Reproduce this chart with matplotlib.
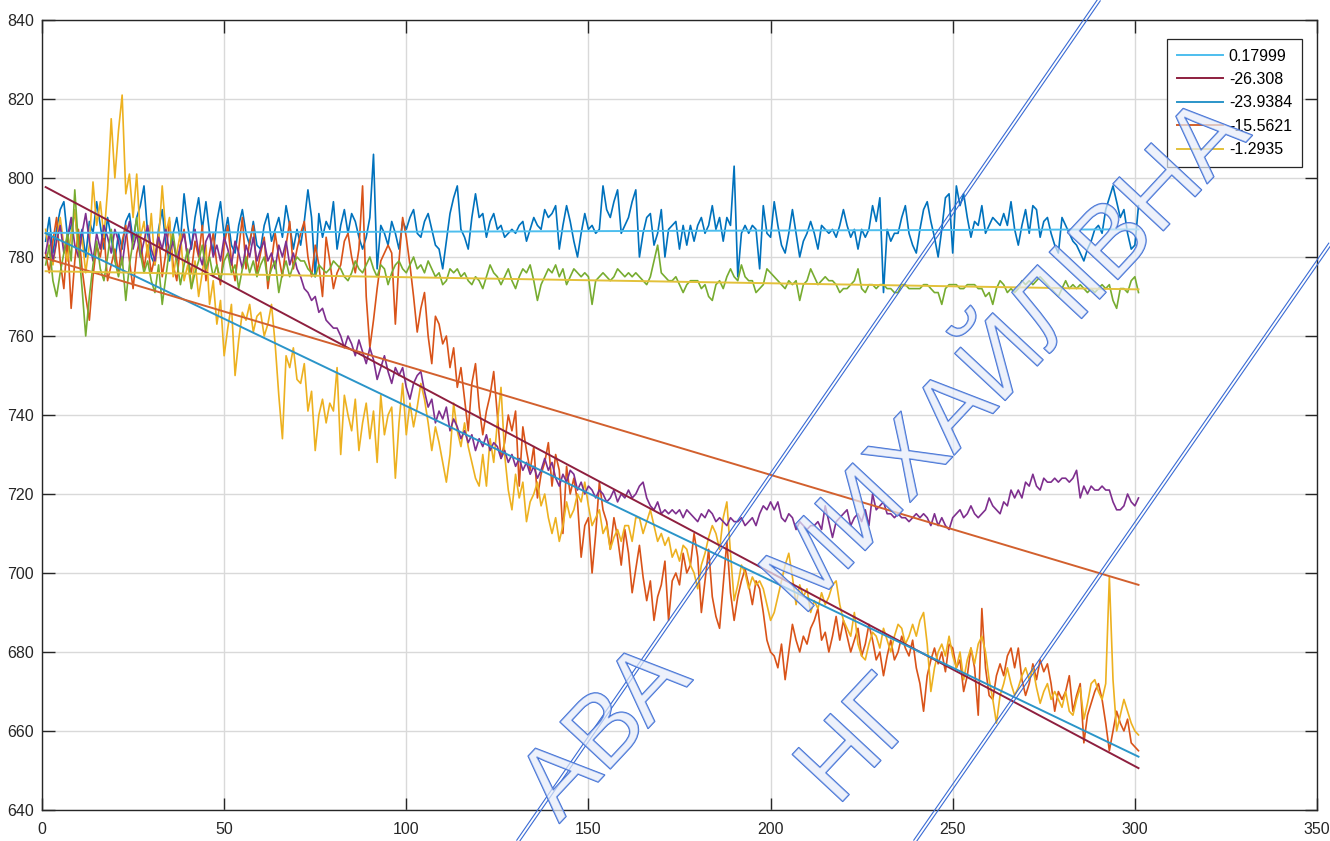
import numpy as np
import matplotlib
matplotlib.use("Agg")
import matplotlib.pyplot as plt
from matplotlib import font_manager
from matplotlib.font_manager import FontProperties
from matplotlib.textpath import text_to_path
from matplotlib.transforms import Affine2D
from matplotlib.lines import Line2D
import matplotlib.patheffects as pe

# ---------------- data ----------------
x = np.arange(1, 302)

blue = [
    784, 790, 781, 787, 792, 794, 785, 788, 791, 783,
    787, 780, 789, 786, 794, 788, 782, 790, 785, 779,
    786, 782, 789, 791, 784, 790, 793, 798, 786, 780,
    778, 787, 792, 783, 779, 786, 790, 784, 796, 788,
    782, 790, 795, 787, 794, 786, 781, 789, 794, 785,
    790, 783, 781, 788, 792, 786, 783, 789, 783, 782,
    788, 791, 784, 787, 790, 785, 793, 788, 782, 787,
    783, 789, 797, 790, 775, 791, 785, 789, 787, 794,
    782, 788, 792, 786, 791, 789, 785, 782, 785, 790,
    806, 777, 788, 786, 783, 789, 786, 782, 789, 787,
    790, 792, 786, 785, 789, 791, 787, 783, 782, 777,
    784, 791, 795, 798, 787, 785, 782, 790, 796, 790,
    791, 785, 789, 791, 787, 788, 785, 786, 787, 786,
    788, 789, 784, 787, 790, 788, 787, 792, 790, 791,
    793, 782, 788, 793, 789, 784, 780, 786, 791, 787,
    788, 786, 787, 798, 792, 790, 794, 797, 786, 788,
    790, 794, 797, 780, 786, 790, 791, 783, 786, 792,
    780, 787, 788, 789, 782, 788, 783, 788, 784, 788,
    790, 786, 788, 793, 787, 790, 784, 790, 788, 803,
    775, 786, 788, 786, 788, 787, 777, 793, 786, 785,
    794, 788, 783, 781, 786, 792, 786, 780, 784, 786,
    789, 786, 782, 788, 787, 786, 787, 785, 788, 792,
    788, 785, 787, 782, 787, 785, 787, 793, 789, 795,
    771, 787, 784, 786, 786, 790, 793, 786, 783, 781,
    787, 792, 794, 789, 785, 780, 787, 795, 796, 781,
    798, 793, 796, 790, 785, 789, 788, 793, 786, 788,
    790, 789, 788, 791, 788, 794, 787, 783, 788, 792,
    786, 793, 792, 785, 789, 790, 786, 783, 781, 790,
    788, 786, 784, 783, 781, 779, 782, 784, 787, 788,
    786, 792, 795, 798, 794, 790, 792, 786, 782, 783,
    793,
]

orange = [
    781, 776, 784, 790, 779, 772, 785, 767, 779, 787,
    777, 770, 764, 775, 783, 780, 786, 774, 778, 782,
    776, 784, 788, 779, 772, 781, 785, 777, 783, 776,
    780, 786, 775, 781, 789, 778, 774, 783, 787, 779,
    776, 784, 780, 788, 774, 781, 786, 778, 773, 783,
    788, 779, 774, 782, 790, 777, 784, 788, 776, 781,
    785, 772, 779, 786, 780, 775, 783, 789, 777, 782,
    786, 789, 780, 775, 783, 778, 770, 785, 779, 772,
    776, 778, 784, 786, 780, 776, 782, 798, 770, 757,
    764, 772, 779, 781, 783, 781, 763, 779, 790, 785,
    778, 770, 761, 767, 771, 760, 753, 765, 763, 758,
    760, 752, 757, 747, 752, 744, 736, 748, 753, 742,
    735, 741, 745, 751, 740, 729, 733, 740, 736, 741,
    722, 737, 731, 726, 732, 719, 725, 728, 733, 722,
    730, 726, 710, 727, 720, 724, 718, 704, 712, 714,
    700, 710, 723, 716, 713, 706, 714, 709, 702, 711,
    705, 695, 701, 707, 699, 693, 698, 688, 694, 697,
    703, 688, 698, 700, 697, 705, 700, 702, 710, 704,
    690, 698, 706, 694, 689, 686, 697, 708, 695, 688,
    694, 698, 701, 697, 692, 698, 696, 690, 683, 680,
    679, 676, 682, 673, 680, 687, 683, 680, 684, 682,
    686, 688, 691, 683, 685, 680, 684, 689, 683, 688,
    684, 680, 683, 686, 679, 682, 687, 683, 678, 680,
    674, 679, 683, 678, 680, 684, 681, 679, 683, 676,
    672, 665, 674, 678, 681, 677, 680, 675, 682, 681,
    676, 678, 670, 674, 681, 676, 664, 691, 676, 669,
    668, 674, 677, 674, 679, 681, 676, 681, 673, 669,
    672, 677, 673, 678, 675, 677, 672, 665, 670, 668,
    670, 674, 665, 669, 672, 657, 664, 667, 670, 672,
    668, 662, 655, 660, 665, 662, 660, 663, 657, 656,
    655,
]

yellow = [
    787, 781, 778, 784, 790, 783, 779, 786, 792, 780,
    785, 776, 783, 799, 788, 794, 785, 797, 815, 800,
    812, 821, 796, 801, 790, 801, 785, 789, 780, 791,
    778, 784, 798, 786, 790, 775, 781, 786, 774, 778,
    772, 779, 770, 776, 783, 768, 774, 763, 769, 755,
    762, 768, 750, 759, 766, 764, 768, 761, 765, 766,
    760, 763, 768, 758, 745, 734, 755, 752, 757, 749,
    748, 753, 741, 746, 731, 740, 744, 738, 743, 741,
    752, 730, 745, 740, 736, 744, 731, 738, 743, 734,
    741, 728, 745, 735, 740, 742, 724, 738, 748, 735,
    743, 737, 742, 748, 744, 738, 731, 737, 733, 728,
    723, 730, 743, 736, 732, 738, 732, 728, 724, 722,
    730, 722, 734, 728, 738, 747, 730, 721, 716, 725,
    719, 723, 713, 718, 720, 723, 717, 720, 714, 710,
    714, 708, 712, 718, 714, 716, 720, 718, 723, 717,
    712, 714, 716, 710, 712, 706, 709, 711, 708, 712,
    712, 708, 714, 714, 710, 713, 716, 712, 708, 710,
    707, 709, 704, 706, 703, 707, 706, 702, 700, 696,
    702, 705, 709, 712, 710, 706, 714, 718, 705, 693,
    697, 702, 700, 696, 699, 697, 698, 696, 692, 688,
    690, 694, 698, 702, 705, 699, 692, 697, 694, 696,
    690, 693, 691, 695, 692, 694, 697, 698, 692, 688,
    686, 684, 690, 682, 679, 678, 682, 685, 684, 681,
    686, 683, 680, 684, 687, 686, 682, 684, 687, 684,
    688, 690, 682, 670, 676, 680, 682, 679, 684, 679,
    676, 680, 673, 678, 681, 677, 682, 684, 680, 673,
    668, 662, 669, 672, 676, 672, 669, 671, 674, 676,
    673, 676, 671, 667, 670, 672, 668, 670, 668, 666,
    670, 665, 664, 668, 671, 663, 667, 672, 673, 670,
    668, 672, 699, 673, 660, 664, 668, 665, 662, 660,
    659,
]

purple = [
    781, 786, 779, 784, 788, 781, 785, 790, 783, 780,
    786, 791, 784, 779, 786, 782, 788, 785, 781, 787,
    784, 778, 785, 789, 782, 786, 780, 784, 788, 782,
    779, 785, 782, 787, 781, 784, 779, 783, 786, 780,
    783, 787, 781, 778, 784, 786, 780, 783, 779, 785,
    782, 778, 784, 781, 777, 783, 780, 785, 779, 782,
    784, 779, 781, 777, 783, 780, 784, 778, 781, 777,
    775, 772, 771, 769, 770, 766, 767, 764, 763, 762,
    762, 760, 757, 760, 758, 755, 759, 756, 753, 757,
    754, 749, 752, 755, 751, 748, 752, 750, 752, 747,
    744, 748, 750, 751, 746, 742, 744, 738, 741, 739,
    742, 736, 739, 737, 734, 736, 733, 735, 731, 734,
    732, 735, 731, 733, 732, 729, 731, 728, 730, 727,
    729, 726, 728, 725, 727, 724, 726, 729, 726, 728,
    724, 722, 725, 723, 726, 725, 721, 723, 720, 722,
    721, 719, 721, 720, 718, 719, 721, 718, 720, 719,
    721, 719, 720, 722, 723, 719, 717, 716, 718, 715,
    716, 715, 716, 715, 716, 714, 716, 715, 714, 713,
    715, 714, 716, 715, 713, 714, 713, 712, 714, 713,
    713, 714, 712, 713, 714, 712, 715, 717, 716, 718,
    716, 718, 714, 713, 715, 714, 711, 713, 712, 711,
    712, 712, 713, 711, 717, 713, 709, 713, 714, 715,
    716, 712, 714, 715, 713, 716, 712, 720, 716, 717,
    718, 715, 715, 714, 715, 714, 714, 713, 714, 715,
    714, 715, 714, 712, 715, 712, 714, 712, 711, 714,
    715, 716, 714, 715, 717, 715, 714, 715, 716, 719,
    717, 716, 715, 718, 717, 721, 719, 721, 719, 723,
    722, 725, 722, 721, 724, 723, 723, 724, 723, 724,
    724, 723, 724, 726, 719, 722, 720, 722, 721, 721,
    722, 721, 721, 718, 716, 716, 717, 720, 718, 717,
    719,
]

green = [
    778, 783, 774, 770, 776, 781, 786, 779, 797, 783,
    772, 760, 770, 778, 784, 777, 774, 780, 787, 779,
    775, 780, 769, 778, 784, 790, 781, 776, 779, 774,
    771, 778, 768, 775, 782, 786, 779, 773, 778, 782,
    772, 776, 779, 783, 777, 780, 775, 778, 774, 779,
    781, 776, 778, 772, 777, 780, 776, 779, 775, 778,
    780, 774, 777, 779, 771, 776, 779, 775, 778, 780,
    779, 779, 777, 776, 775, 778, 777, 776, 777, 779,
    778, 777, 775, 774, 776, 779, 777, 776, 778, 780,
    777, 775, 778, 777, 773, 776, 778, 779, 777, 776,
    778, 780, 777, 778, 776, 779, 777, 775, 776, 773,
    774, 777, 776, 777, 775, 776, 774, 773, 775, 774,
    772, 775, 778, 776, 775, 773, 775, 777, 774, 772,
    775, 777, 776, 778, 774, 769, 773, 775, 777, 776,
    778, 775, 777, 773, 775, 777, 776, 775, 776, 775,
    768, 774, 775, 776, 775, 774, 775, 777, 776, 775,
    776, 775, 776, 775, 774, 773, 775, 779, 783, 776,
    775, 774, 774, 775, 773, 771, 773, 774, 774, 774,
    772, 773, 770, 769, 773, 774, 772, 775, 777, 775,
    774, 778, 775, 774, 774, 771, 772, 773, 777, 776,
    775, 774, 773, 772, 774, 773, 774, 769, 773, 774,
    777, 775, 773, 774, 775, 774, 774, 773, 771, 772,
    772, 773, 774, 777, 772, 771, 773, 773, 772, 773,
    773, 772, 772, 771, 771, 773, 773, 772, 772, 772,
    772, 773, 773, 772, 771, 771, 768, 772, 773, 773,
    773, 772, 772, 773, 773, 773, 772, 772, 770, 771,
    768, 772, 774, 773, 771, 772, 771, 772, 774, 773,
    774, 773, 774, 775, 774, 773, 772, 771, 770, 772,
    774, 772, 773, 772, 773, 772, 771, 772, 771, 772,
    773, 772, 773, 769, 767, 772, 772, 771, 774, 775,
    771,
]

# straight trend lines (value at first and last sample) with their legend labels
fit_labels = ["0.17999", "-26.308", "-23.9384", "-15.5621", "-1.2935"]
fit_start = [786.1, 797.7, 786.0, 779.7, 776.4]
fit_end = [787.0, 650.6, 653.5, 697.0, 771.8]

x_ticks = [0, 50, 100, 150, 200, 250, 300, 350]
y_ticks = [640, 660, 680, 700, 720, 740, 760, 780, 800, 820, 840]

# watermark overlay texts
wm_words = ["АВА", "МИХАЙЛІВНА", "НГ"]

# ---------------- style ----------------
avail = {f.name for f in font_manager.fontManager.ttflist}
if "Liberation Sans Narrow" in avail:
    fam, fsz = ["Liberation Sans Narrow", "DejaVu Sans"], 12.5
else:
    fam, fsz = ["Liberation Sans", "DejaVu Sans"], 11.5
plt.rcParams["font.family"] = fam

series_colors = ["#0072BD", "#D95319", "#EDB120", "#7E2F8E", "#77AC30"]
fit_colors = ["#4DBEEE", "#8E1F3F", "#2B95C9", "#D2602E", "#E3C13A"]

W, H = 1330, 841
fig = plt.figure(figsize=(W / 100, H / 100), dpi=100)
ax = fig.add_axes([42 / W, 31 / H, 1275 / W, 790 / H])

for ys, c in zip([blue, orange, yellow, purple, green], series_colors):
    ax.plot(x, ys, color=c, lw=1.2, zorder=2)

xf = np.array([x[0], x[-1]])
for s, e, c, lab in zip(fit_start, fit_end, fit_colors, fit_labels):
    ax.plot(xf, [s, e], color=c, lw=1.4, label=lab, zorder=3)

ax.set_xlim(0, 350)
ax.set_ylim(640, 840)
ax.set_xticks(x_ticks)
ax.set_yticks(y_ticks)
ax.grid(True, color="#d9d9d9", lw=1.0)
ax.set_axisbelow(True)
for sp in ax.spines.values():
    sp.set_color("#262626")
    sp.set_linewidth(1.0)
ax.tick_params(direction="in", length=9, width=1.0, color="#262626",
               top=True, right=True, labelsize=fsz, labelcolor="#262626")
ax.tick_params(axis="x", pad=9)
ax.tick_params(axis="y", pad=6)

leg = ax.legend(loc="upper right", bbox_to_anchor=(0.988, 0.976),
                borderaxespad=0, fontsize=fsz, frameon=True, fancybox=False,
                framealpha=1, edgecolor="#262626", handlelength=2.9,
                handletextpad=0.35, labelspacing=0.53, borderpad=0.6)
leg.get_frame().set_linewidth(0.9)

# ---------------- watermark (overlay in canvas pixels, y measured from top) ----
wm_edge = "#3a6bd4"
wm_fill = (0.90, 0.93, 0.98, 0.45)
wm_pt = 72
wm_px = wm_pt * 100 / 72
wm_ang = 47.0
wm_fam = ["Liberation Sans", "DejaVu Sans"]
prop = FontProperties(family=wm_fam, size=wm_pt)


def tw(s):
    return text_to_path.get_text_width_height_descent(s, prop, ismath=False)[0] * 100 / 72


a = np.deg2rad(wm_ang)
u = np.array([np.cos(a), np.sin(a)])
up = np.array([-np.sin(a), np.cos(a)])
cap = 0.72 * wm_px
wm_texts = []


def wm_text(s, ref_along, center_top):
    c = np.array([center_top[0], H - center_top[1]])
    start = c - ref_along * u - 0.5 * cap * up
    t = fig.text(start[0] / W, start[1] / H, s, rotation=wm_ang, rotation_mode="anchor",
                 ha="left", va="baseline", fontsize=wm_pt, color=wm_fill,
                 family=wm_fam, zorder=10,
                 path_effects=[pe.Stroke(linewidth=1.1, foreground=wm_edge), pe.Normal()])
    wm_texts.append(t)


wm_text(wm_words[0], tw(wm_words[0]) / 2, (600, 760))
wm_text(wm_words[1], (tw("МИ") + tw("МИХ")) / 2, (905, 455))
wm_text(wm_words[2], tw("Н"), (860, 730))

# keep each watermark word fully inside the canvas
renderer = fig.canvas.get_renderer()
for t in wm_texts:
    bb = t.get_window_extent(renderer)
    dx = max(0, 3 - bb.x0) - max(0, bb.x1 - (W - 3))
    dy = max(0, 3 - bb.y0) - max(0, bb.y1 - (H - 3))
    px, py = t.get_position()
    t.set_position((px + dx / W, py + dy / H))

pix = Affine2D().scale(1 / W, 1 / H) + fig.transFigure
for (x0, y0), (x1, y1) in [((518, 841), (1099, 0)), ((915, 841), (1330, 244))]:
    d = np.array([x1 - x0, y0 - y1], float)
    d /= np.hypot(*d)
    nrm = np.array([d[1], -d[0]])
    for off in (-1.5, 1.5):
        fig.add_artist(Line2D([x0 + off * nrm[0], x1 + off * nrm[0]],
                              [H - y0 + off * nrm[1], H - y1 + off * nrm[1]],
                              transform=pix, color=wm_edge, lw=0.8, zorder=10))

fig.savefig("out.png", dpi=100)
